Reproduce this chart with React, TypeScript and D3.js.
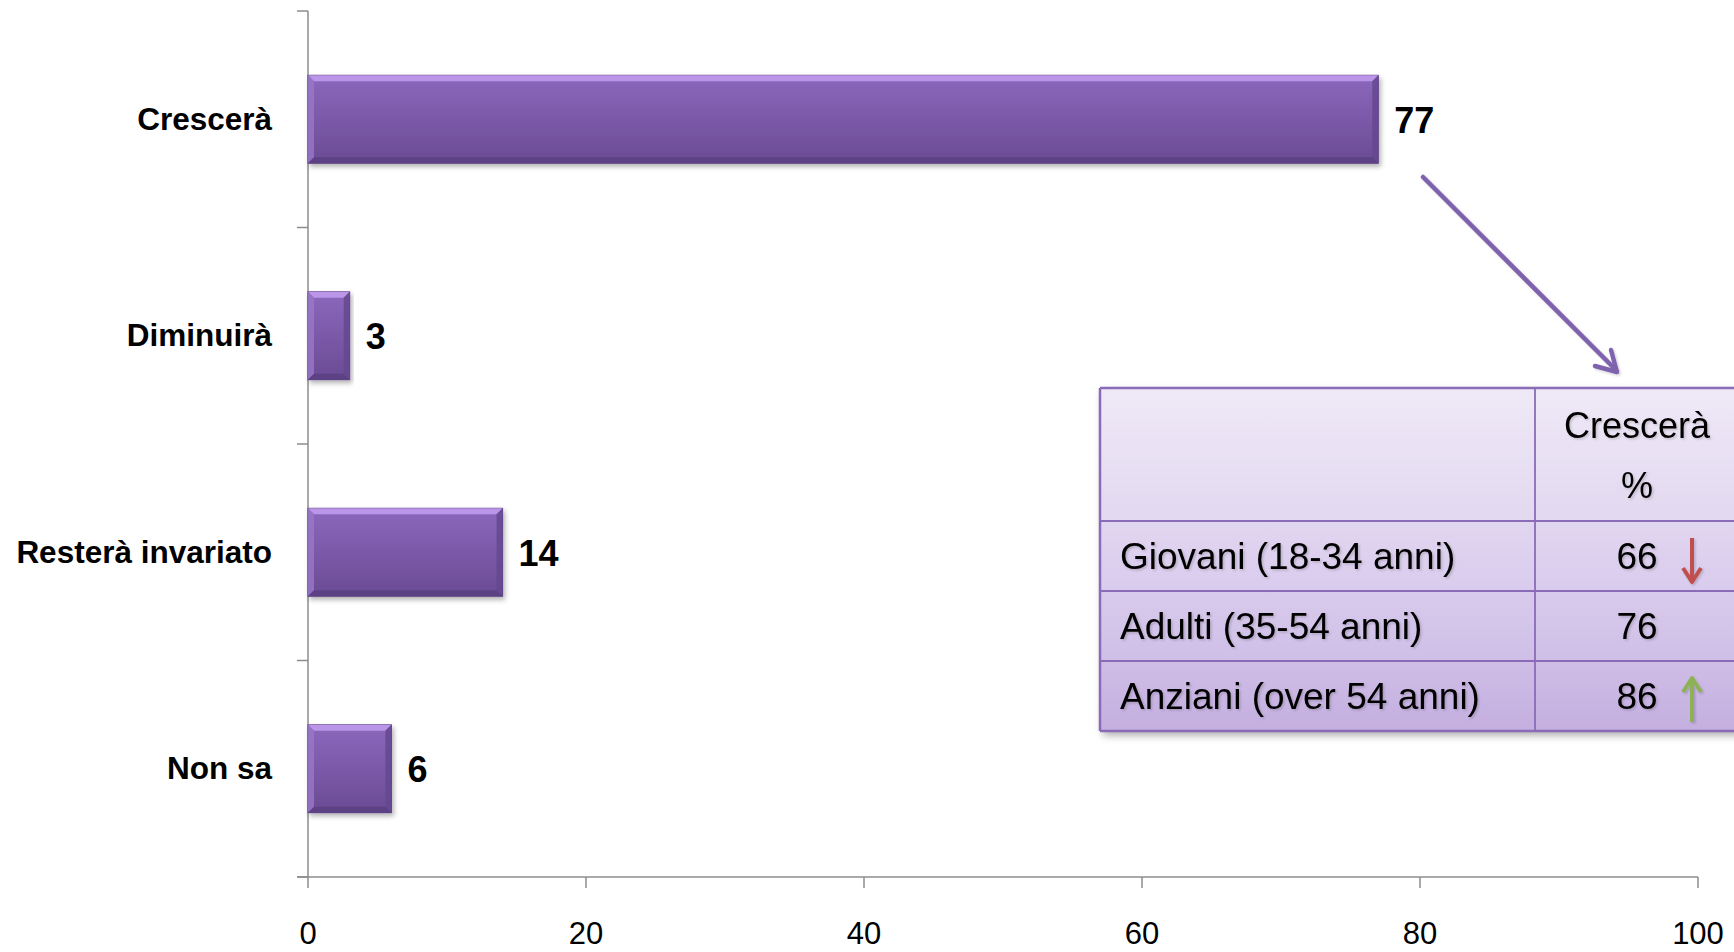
import React from "react";
import * as d3 from "d3";

const categories = ["Crescerà", "Diminuirà", "Resterà invariato", "Non sa"];
const values = [77, 3, 14, 6];
const xTicks = [0, 20, 40, 60, 80, 100];

const tableHeader = ["Crescerà", "%"];
const tableRows = ["Giovani (18-34 anni)", "Adulti (35-54 anni)", "Anziani (over 54 anni)"];
const tableValues = [66, 76, 86];
const tableTrend = ["down", "none", "up"];

const W = 1734;
const H = 952;
const FONT = "'Liberation Sans', Arial, sans-serif";

export default function App() {
  const x = d3.scaleLinear().domain([0, 100]).range([308, 1698]);
  const y = d3
    .scaleBand<string>()
    .domain(categories)
    .range([11, 877])
    .paddingInner(0.594)
    .paddingOuter(0.297);
  const bw = y.bandwidth();
  const axisColor = "#8c8c8c";

  // table geometry
  const tL = 1100, tT = 388, tDiv = 1535, tR = 1780;
  const rowEdges = [388, 521, 591, 661, 731];
  const rowFills = [
    ["#efe9f7", "#e2d8f0"],
    ["#e1d6f0", "#d9cbed"],
    ["#d8caec", "#cfbfe7"],
    ["#cfbde6", "#c4afe0"],
  ];
  const valX = 1637;
  const arrX = 1692;

  return (
    <svg
      width={W}
      height={H}
      style={{ position: "absolute", left: 0, top: 0, display: "block", background: "#fff" }}
    >
      <defs>
        <linearGradient id="barG" x1="0" y1="0" x2="0" y2="1">
          <stop offset="0" stopColor="#8c68bc" />
          <stop offset="0.5" stopColor="#7b59a9" />
          <stop offset="1" stopColor="#6a4b93" />
        </linearGradient>
        <filter id="shadow" x="-5%" y="-20%" width="115%" height="150%">
          <feDropShadow dx="2" dy="3" stdDeviation="2.5" floodColor="#000" floodOpacity="0.3" />
        </filter>
        <filter id="tshadow" x="-5%" y="-5%" width="115%" height="115%">
          <feDropShadow dx="3" dy="4" stdDeviation="4" floodColor="#000" floodOpacity="0.35" />
        </filter>
        <filter id="txtS" x="-10%" y="-20%" width="130%" height="160%">
          <feDropShadow dx="1.5" dy="1.5" stdDeviation="1" floodColor="#000" floodOpacity="0.18" />
        </filter>
        {rowFills.map((f, i) => (
          <linearGradient key={i} id={`rowG${i}`} x1="0" y1="0" x2="0" y2="1">
            <stop offset="0" stopColor={f[0]} />
            <stop offset="1" stopColor={f[1]} />
          </linearGradient>
        ))}
      </defs>

      {/* axes */}
      <line x1={308} x2={308} y1={11} y2={877} stroke={axisColor} strokeWidth={1.5} />
      <line x1={297} x2={1698} y1={877} y2={877} stroke={axisColor} strokeWidth={1.5} />
      {[0, 1, 2, 3, 4].map((i) => {
        const yy = 11 + ((877 - 11) / 4) * i;
        return <line key={i} x1={297} x2={308} y1={yy} y2={yy} stroke={axisColor} strokeWidth={1.5} />;
      })}
      {xTicks.map((t) => (
        <g key={t}>
          <line x1={x(t)} x2={x(t)} y1={877} y2={888} stroke={axisColor} strokeWidth={1.5} />
          <text x={x(t)} y={944} textAnchor="middle" fontFamily={FONT} fontSize={31} fill="#000">
            {t}
          </text>
        </g>
      ))}

      {/* bars */}
      {categories.map((c, i) => {
        const y0 = y(c)!;
        const x0 = x(0);
        const x1 = x(values[i]);
        const w = x1 - x0;
        const cy = y0 + bw / 2;
        return (
          <g key={c}>
            <g filter="url(#shadow)">
              <rect x={x0} y={y0} width={w} height={bw} fill="url(#barG)" stroke="#5e4287" strokeWidth={1} />
            </g>
            <polygon
              points={`${x0},${y0} ${x1},${y0} ${x1 - 6},${y0 + 6} ${x0 + 6},${y0 + 6}`}
              fill="#c39ef0"
              opacity={0.85}
            />
            <polygon
              points={`${x0},${y0} ${x0 + 6},${y0 + 6} ${x0 + 6},${y0 + bw - 6} ${x0},${y0 + bw}`}
              fill="#9a78c8"
              opacity={0.8}
            />
            <polygon
              points={`${x0},${y0 + bw} ${x0 + 6},${y0 + bw - 6} ${x1 - 6},${y0 + bw - 6} ${x1},${y0 + bw}`}
              fill="#5b4083"
              opacity={0.85}
            />
            <polygon
              points={`${x1},${y0} ${x1},${y0 + bw} ${x1 - 6},${y0 + bw - 6} ${x1 - 6},${y0 + 6}`}
              fill="#654891"
              opacity={0.85}
            />
            <text x={272} y={cy + 10.5} textAnchor="end" fontFamily={FONT} fontWeight="bold" fontSize={31.5} fill="#000">
              {c}
            </text>
            <text x={x1 + 16} y={cy + 13.5} fontFamily={FONT} fontWeight="bold" fontSize={36} fill="#000">
              {values[i]}
            </text>
          </g>
        );
      })}

      {/* callout arrow */}
      <g filter="url(#txtS)">
        <line x1={1423} y1={177} x2={1616} y2={370} stroke="#7f62ad" strokeWidth={4.5} strokeLinecap="round" />
        <polyline
          points={`${1595},${366} ${1617},${372} ${1611},${350}`}
          fill="none"
          stroke="#7f62ad"
          strokeWidth={4.5}
          strokeLinecap="round"
          strokeLinejoin="round"
        />
      </g>

      {/* table */}
      <g filter="url(#tshadow)">
        <rect x={tL} y={tT} width={tR - tL} height={rowEdges[4] - tT} fill="#fff" />
      </g>
      {rowEdges.slice(0, 4).map((r, i) => (
        <rect key={i} x={tL} y={r} width={tR - tL} height={rowEdges[i + 1] - r} fill={`url(#rowG${i})`} />
      ))}
      {rowEdges.map((r, i) => (
        <line key={i} x1={tL} x2={tR} y1={r} y2={r} stroke="#8a6bb7" strokeWidth={i === 0 || i === 4 ? 2.5 : 1.8} />
      ))}
      <line x1={tL} x2={tL} y1={tT} y2={rowEdges[4]} stroke="#8a6bb7" strokeWidth={2.5} />
      <line x1={tDiv} x2={tDiv} y1={tT} y2={rowEdges[4]} stroke="#8a6bb7" strokeWidth={1.8} />

      <g filter="url(#txtS)">
        <text x={valX} y={438} textAnchor="middle" fontFamily={FONT} fontSize={36} fill="#000">
          {tableHeader[0]}
        </text>
        <text x={valX} y={498} textAnchor="middle" fontFamily={FONT} fontSize={36} fill="#000">
          {tableHeader[1]}
        </text>
        {tableRows.map((r, i) => {
          const yb = (rowEdges[i + 1] + rowEdges[i + 2]) / 2 + 13;
          return (
            <g key={r}>
              <text x={1120} y={yb} fontFamily={FONT} fontSize={37} fill="#000">
                {r}
              </text>
              <text x={valX} y={yb} textAnchor="middle" fontFamily={FONT} fontSize={37} fill="#000">
                {tableValues[i]}
              </text>
            </g>
          );
        })}
      </g>

      {/* trend arrows */}
      {tableTrend.map((t, i) => {
        if (t === "none") return null;
        const top = rowEdges[i + 1] + 17;
        const bot = rowEdges[i + 2] - 9;
        const col = t === "down" ? "#c0504d" : "#8db255";
        const tip = t === "down" ? bot : top;
        const dir = t === "down" ? -1 : 1;
        return (
          <g key={i} filter="url(#txtS)">
            <line x1={arrX} x2={arrX} y1={top} y2={bot} stroke={col} strokeWidth={4} />
            <polyline
              points={`${arrX - 9},${tip + dir * 14} ${arrX},${tip} ${arrX + 9},${tip + dir * 14}`}
              fill="none"
              stroke={col}
              strokeWidth={4}
              strokeLinejoin="round"
            />
          </g>
        );
      })}
    </svg>
  );
}
